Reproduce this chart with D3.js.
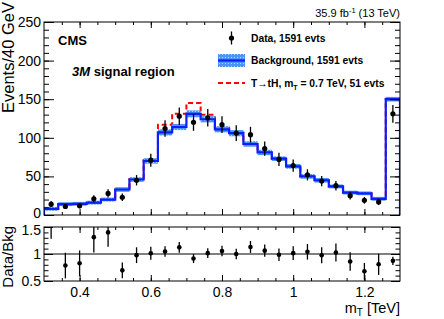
<!DOCTYPE html>
<html>
<head>
<meta charset="utf-8">
<script src="https://cdn.jsdelivr.net/npm/d3@7"></script>
<style>
  body { margin: 0; background: #fff; }
  text { font-family: "Liberation Sans", Arial, sans-serif; fill: #000; }
</style>
</head>
<body>
<svg id="chart" width="444" height="319"></svg>
<script>
// --- data (40 GeV bins, last bin = overflow)
const binCenters = [0.32, 0.36, 0.40, 0.44, 0.48, 0.52, 0.56, 0.60, 0.64, 0.68, 0.72, 0.76, 0.80,
                    0.84, 0.88, 0.92, 0.96, 1.00, 1.04, 1.08, 1.12, 1.16, 1.20, 1.24, 1.28];
const dataCounts = [14, 11, 12, 21, 28, 23, 45, 71, 112, 128, 120, 126, 117,
                    106, 104, 86, 72, 64, 52, 44, 38, 25, 19, 17, 131];
const bkgCounts  = [8, 14, 14.5, 16, 20, 33, 46, 70, 107, 114, 131, 124, 111,
                    106, 92, 81, 73, 63, 50, 45, 37, 29, 28, 21, 150];
const bkgUnc     = [2.5, 2.5, 2.5, 2.5, 2.5, 3, 3, 3.5, 4, 4, 4.5, 4, 4,
                    4, 3.5, 3.5, 3, 3, 3, 3, 2.5, 2.5, 2.5, 2.5, 3];
const sigCounts  = [0, 0, 0, 0, 0, 0, 0.5, 1, 10, 17, 14, 6, 2,
                    1, 0.5, 0, 0, 0, 0, 0, 0, 0, 0, 0, 0];
const binWidth = 0.04;
const yTicks = [0, 50, 100, 150, 200, 250];
const xTickLabels = [0.4, 0.6, 0.8, 1.0, 1.2];
const ratioTicks = [0.5, 1, 1.5];

const svg = d3.select("#chart");
const left = 44, right = 400;
const top1 = 22, bot1 = 215, top2 = 227, bot2 = 281;

const x = d3.scaleLinear().domain([0.3, 1.3]).range([left, right]);
const y = d3.scaleLinear().domain([0, 250]).range([bot1, top1]);
const yr = d3.scaleLinear().domain([0.5, 1.5]).range([bot2, top2]);

// band pattern
const defs = svg.append("defs");
const pat = defs.append("pattern").attr("id", "band")
    .attr("width", 3).attr("height", 3).attr("patternUnits", "userSpaceOnUse");
pat.append("rect").attr("width", 3).attr("height", 3).attr("fill", "#4a95f5");
pat.append("rect").attr("width", 1).attr("height", 1).attr("fill", "#b5d5ff");
defs.append("clipPath").attr("id", "clip1").append("rect")
    .attr("x", left).attr("y", top1).attr("width", right - left).attr("height", bot1 - top1);
defs.append("clipPath").attr("id", "clip2").append("rect")
    .attr("x", left).attr("y", top2).attr("width", right - left).attr("height", bot2 - top2);

function stepPoints(vals) {
    const pts = [[binCenters[0] - binWidth / 2, 0]];
    vals.forEach(function(v, i) {
        pts.push([binCenters[i] - binWidth / 2, v]);
        pts.push([binCenters[i] + binWidth / 2, v]);
    });
    pts.push([binCenters[binCenters.length - 1] + binWidth / 2, 0]);
    return pts;
}
const line = d3.line().x(d => x(d[0])).y(d => y(d[1]));

const main = svg.append("g").attr("clip-path", "url(#clip1)");

// signal stacked on background, dashed red
const stacked = bkgCounts.map((b, i) => b + sigCounts[i]);
main.append("path").attr("d", line(stepPoints(stacked)))
    .attr("fill", "none").attr("stroke", "#ff0000").attr("stroke-width", 2)
    .attr("stroke-dasharray", "5,3");

// background uncertainty band
main.selectAll(".band").data(bkgCounts).enter().append("rect")
    .attr("x", (d, i) => x(binCenters[i] - binWidth / 2))
    .attr("width", x(binWidth) - x(0))
    .attr("y", (d, i) => y(d + bkgUnc[i]))
    .attr("height", (d, i) => y(d - bkgUnc[i]) - y(d + bkgUnc[i]))
    .attr("fill", "url(#band)");

// background line
main.append("path").attr("d", line(stepPoints(bkgCounts)))
    .attr("fill", "none").attr("stroke", "#0a1eff").attr("stroke-width", 2.2);

// data points
const pts = main.selectAll(".pt").data(dataCounts).enter().append("g");
pts.append("line")
    .attr("x1", (d, i) => x(binCenters[i])).attr("x2", (d, i) => x(binCenters[i]))
    .attr("y1", d => y(d + Math.sqrt(d))).attr("y2", d => y(d - Math.sqrt(d)))
    .attr("stroke", "#000").attr("stroke-width", 1.3);
pts.append("circle")
    .attr("cx", (d, i) => x(binCenters[i])).attr("cy", d => y(d))
    .attr("r", 2.6).attr("fill", "#000");

// --- axes + frame for one panel
function frameAxes(g, yScale, yMajor, yMinorStep, yTop, yBot, yFmt, showXLabels, xMaj, xMin, yMaj, yMin) {
    const yDom = yScale.domain();
    const yMinor = d3.range(yDom[0], yDom[1] + 1e-9, yMinorStep);
    const xMajor = xTickLabels;
    const xMinor = d3.range(0.35, 1.3, 0.05);

    g.append("g").attr("transform", `translate(${left},0)`)
        .call(d3.axisLeft(yScale).tickValues(yMinor).tickSize(-yMin).tickFormat(""));
    g.append("g").attr("class", "ylab").attr("transform", `translate(${left},0)`)
        .call(d3.axisLeft(yScale).tickValues(yMajor).tickSize(-yMaj).tickPadding(3).tickFormat(yFmt));
    g.append("g").attr("transform", `translate(${right},0)`)
        .call(d3.axisRight(yScale).tickValues(yMinor).tickSize(-yMin).tickFormat(""));
    g.append("g").attr("transform", `translate(${right},0)`)
        .call(d3.axisRight(yScale).tickValues(yMajor).tickSize(-yMaj).tickFormat(""));

    g.append("g").attr("transform", `translate(0,${yBot})`)
        .call(d3.axisBottom(x).tickValues(xMinor).tickSize(-xMin).tickFormat(""));
    g.append("g").attr("transform", `translate(0,${yBot})`)
        .call(d3.axisBottom(x).tickValues(xMajor).tickSize(-xMaj).tickPadding(6)
            .tickFormat(showXLabels ? d3.format("") : ""));
    g.append("g").attr("transform", `translate(0,${yTop})`)
        .call(d3.axisTop(x).tickValues(xMinor).tickSize(-xMin).tickFormat(""));
    g.append("g").attr("transform", `translate(0,${yTop})`)
        .call(d3.axisTop(x).tickValues(xMajor).tickSize(-xMaj).tickFormat(""));

    g.selectAll(".domain").remove();
    g.selectAll(".tick line").attr("stroke", "#000").attr("stroke-width", 1);
    g.selectAll(".tick text").attr("font-size", 14)
        .attr("font-family", "Liberation Sans, Arial, sans-serif");
    g.append("rect").attr("x", left).attr("y", yTop)
        .attr("width", right - left).attr("height", yBot - yTop)
        .attr("fill", "none").attr("stroke", "#000").attr("stroke-width", 1);
    return g;
}

const mainAx = frameAxes(svg.append("g"), y, yTicks, 10, top1, bot1, d3.format("d"), false, 6, 3, 10, 5);
// pull the "0" label a touch up so it clears the ratio panel's "1.5"
mainAx.selectAll(".ylab .tick text").filter(d => d === 0).attr("dy", "0.2em");

// --- ratio panel
const ratio = svg.append("g").attr("clip-path", "url(#clip2)");
ratio.append("line").attr("x1", left).attr("x2", right)
    .attr("y1", yr(1)).attr("y2", yr(1)).attr("stroke", "#000").attr("stroke-width", 1);
const rp = ratio.selectAll(".rp").data(dataCounts).enter().append("g");
rp.append("line")
    .attr("x1", (d, i) => x(binCenters[i])).attr("x2", (d, i) => x(binCenters[i]))
    .attr("y1", (d, i) => yr((d + Math.sqrt(d)) / bkgCounts[i]))
    .attr("y2", (d, i) => yr((d - Math.sqrt(d)) / bkgCounts[i]))
    .attr("stroke", "#000").attr("stroke-width", 1.3);
rp.append("circle")
    .attr("cx", (d, i) => x(binCenters[i])).attr("cy", (d, i) => yr(d / bkgCounts[i]))
    .attr("r", 2.3).attr("fill", "#000");

const ratioAx = frameAxes(svg.append("g"), yr, ratioTicks, 0.1, top2, bot2, d3.format(""), true, 6, 3, 9, 4.5);
ratioAx.selectAll(".ylab .tick text").filter(d => d === 1.5).attr("dy", "0.5em");

// --- titles
svg.append("text").attr("transform", "translate(14,2) rotate(-90)")
    .attr("text-anchor", "end").attr("font-size", 16.5).text("Events/40 GeV");
svg.append("text").attr("transform", `translate(13,${top2 - 1}) rotate(-90)`)
    .attr("text-anchor", "end").attr("font-size", 15).text("Data/Bkg");

const xt = svg.append("text").attr("x", right).attr("y", 313)
    .attr("text-anchor", "end").attr("font-size", 14.5);
xt.append("tspan").text("m");
xt.append("tspan").attr("font-size", 10).attr("dy", 3).text("T");
xt.append("tspan").attr("dy", -3).text(" [TeV]");

const lumi = svg.append("text").attr("x", right).attr("y", 17)
    .attr("text-anchor", "end").attr("font-size", 11);
lumi.append("tspan").text("35.9 fb");
lumi.append("tspan").attr("font-size", 7.5).attr("dy", -4).text("-1");
lumi.append("tspan").attr("dy", 4).text(" (13 TeV)");

svg.append("text").attr("x", 58).attr("y", 45).attr("font-size", 13)
    .attr("font-weight", "bold").text("CMS");
const reg = svg.append("text").attr("x", 72).attr("y", 76).attr("font-size", 13)
    .attr("font-weight", "bold");
reg.append("tspan").attr("font-style", "italic").text("3M");
reg.append("tspan").text(" signal region");

// --- legend
const lg = svg.append("g");
const lx0 = 218, lx1 = 245, tx = 251;
const rows = [38, 60.5, 83];
lg.append("line").attr("x1", (lx0 + lx1) / 2).attr("x2", (lx0 + lx1) / 2)
    .attr("y1", rows[0] - 6.5).attr("y2", rows[0] + 6.5).attr("stroke", "#000").attr("stroke-width", 1.3);
lg.append("circle").attr("cx", (lx0 + lx1) / 2).attr("cy", rows[0]).attr("r", 2.6).attr("fill", "#000");
lg.append("rect").attr("x", lx0).attr("y", rows[1] - 6.5).attr("width", lx1 - lx0).attr("height", 13)
    .attr("fill", "url(#band)");
lg.append("line").attr("x1", lx0).attr("x2", lx1).attr("y1", rows[1]).attr("y2", rows[1])
    .attr("stroke", "#0a1eff").attr("stroke-width", 2.2);
lg.append("line").attr("x1", lx0).attr("x2", lx1).attr("y1", rows[2]).attr("y2", rows[2])
    .attr("stroke", "#ff0000").attr("stroke-width", 2).attr("stroke-dasharray", "5,3");

function legText(yc) {
    return lg.append("text").attr("x", tx).attr("y", yc + 3.7)
        .attr("font-size", 10.3).attr("font-weight", "bold");
}
legText(rows[0]).text("Data, 1591 evts");
legText(rows[1]).text("Background, 1591 evts");
const st = legText(rows[2]);
st.append("tspan").text("T\u2192tH, m");
st.append("tspan").attr("font-size", 7).attr("dy", 3).text("T");
st.append("tspan").attr("dy", -3).text(" = 0.7 TeV, 51 evts");
</script>
</body>
</html>
